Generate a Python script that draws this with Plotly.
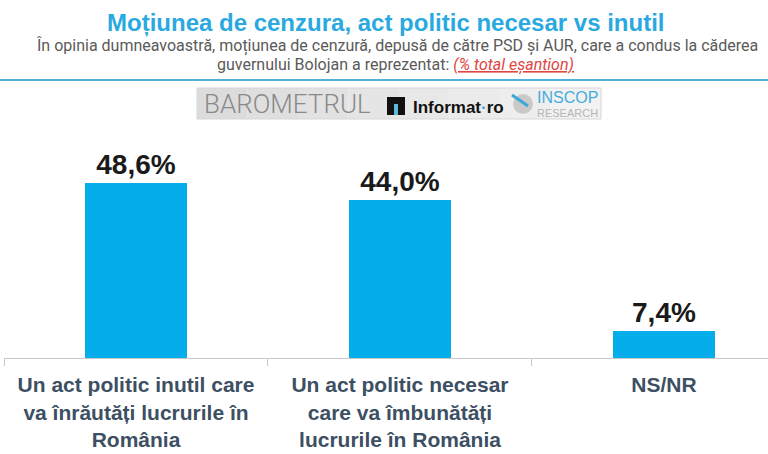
import plotly.graph_objects as go

# date sondaj
categories = [
    "Un act politic inutil care<br>va înrăutăți lucrurile în<br>România",
    "Un act politic necesar<br>care va îmbunătăți<br>lucrurile în România",
    "NS/NR",
]
values = [48.6, 44.0, 7.4]
labels = [f"{v:.1f}".replace(".", ",") + "%" for v in values]

title = "Moțiunea de cenzura, act politic necesar vs inutil"
subtitle_1 = ("În opinia dumneavoastră, moțiunea de cenzură, depusă de către PSD și AUR, "
              "care a condus la căderea")
subtitle_2 = "guvernului Bolojan a reprezentat: "
sample_note = "(% total eșantion)"

W, H = 768, 454
ML, MR, MT, MB = 4, 0, 142, 96
PW, PH = W - ML - MR, H - MT - MB


# pixel -> paper helpers for the header decorations
def px(x):
    return (x - ML) / PW


def py(y):
    return (H - MB - y) / PH


fig = go.Figure()
fig.add_trace(go.Bar(
    x=categories, y=values, width=0.386,
    marker=dict(color="#05AEEB", line=dict(width=0)),
    text=labels, textposition="outside", cliponaxis=False,
    textfont=dict(family="Liberation Sans", size=28, color="#1a1a1a", weight="bold"),
    hoverinfo="skip",
))

ann = [
    dict(x=px(385), y=py(23), text=title, showarrow=False,
         font=dict(family="Liberation Sans", size=24, color="#2AA9E0", weight="bold")),
    dict(x=px(397), y=py(46), text=subtitle_1, showarrow=False,
         font=dict(family="Roboto", size=16, color="#5A5A5A")),
    dict(x=px(395), y=py(65),
         text=subtitle_2 + f"<span style='color:#E0453F'><i><u>{sample_note}</u></i></span>",
         showarrow=False,
         font=dict(family="Roboto", size=16, color="#5A5A5A")),
    # logo strip
    dict(x=px(202), y=py(104.5), xanchor="left", text="BAROMETRUL", showarrow=False,
         font=dict(family="Roboto", size=26, color="#8A8A8A", weight=300)),
    dict(x=px(411), y=py(107), xanchor="left",
         text="Informat<span style='color:#3AA9D8'>·</span>ro", showarrow=False,
         font=dict(family="Liberation Sans", size=17, color="#111111", weight="bold")),
    dict(x=px(535), y=py(104), xanchor="left", align="left",
         text="<span style='font-size:16px;color:#45ACDA'>INSCOP</span><br>RESEARCH",
         showarrow=False,
         font=dict(family="Liberation Sans", size=11, color="#B5B5B5")),
]
for a in ann:
    a.update(xref="paper", yref="paper", yanchor="middle")

shapes = [
    dict(type="line", x0=px(0), x1=px(768), y0=py(80), y1=py(80),
         line=dict(color="#4DB3DD", width=2)),
]
# logo box, light grey fading to the right
n_strips = 8
for i in range(n_strips):
    g = int(0xDC + (0xF2 - 0xDC) * i / (n_strips - 1))
    x0 = 197 + (601 - 197) * i / n_strips
    x1 = 197 + (601 - 197) * (i + 1) / n_strips
    shapes.append(dict(type="rect", x0=px(x0), x1=px(x1), y0=py(88), y1=py(119),
                       fillcolor=f"rgb({g},{g},{g})", line=dict(width=0)))
shapes += [
    dict(type="rect", x0=px(197), x1=px(601), y0=py(88), y1=py(119),
         line=dict(color="#D6D6D6", width=1)),
    dict(type="rect", x0=px(387), x1=px(405), y0=py(97), y1=py(115),
         fillcolor="#111111", line=dict(width=0)),
    dict(type="rect", x0=px(394), x1=px(398), y0=py(104), y1=py(115),
         fillcolor="#5FB7DA", line=dict(width=0)),
    dict(type="circle", x0=px(513), x1=px(533), y0=py(94), y1=py(114),
         fillcolor="#C9C9C9", line=dict(width=0)),
    dict(type="line", x0=px(512), x1=px(528), y0=py(95), y1=py(106),
         line=dict(color="#3AA9D8", width=3)),
]
for s in shapes:
    s.update(xref="paper", yref="paper", layer="above")

fig.update_layout(
    width=W, height=H,
    margin=dict(l=ML, r=MR, t=MT, b=MB, pad=0),
    paper_bgcolor="white", plot_bgcolor="white",
    showlegend=False,
    bargap=0,
    annotations=ann,
    shapes=shapes,
    xaxis=dict(
        range=[-0.5, 2.394], fixedrange=True,
        showline=True, linecolor="#C8C8C8", linewidth=1,
        ticks="outside", tickson="boundaries", ticklen=7, tickcolor="#C8C8C8",
        ticklabelstandoff=8,
        tickfont=dict(family="Liberation Sans", size=21, color="#3D4F63", weight="bold"),
        showgrid=False,
    ),
    yaxis=dict(range=[0, 60], visible=False, showgrid=False, fixedrange=True),
)

# page body margin off so the figure sits at the window corner
fig.write_html("out.html", config={"displayModeBar": False},
               post_script="document.body.style.margin='0';")
